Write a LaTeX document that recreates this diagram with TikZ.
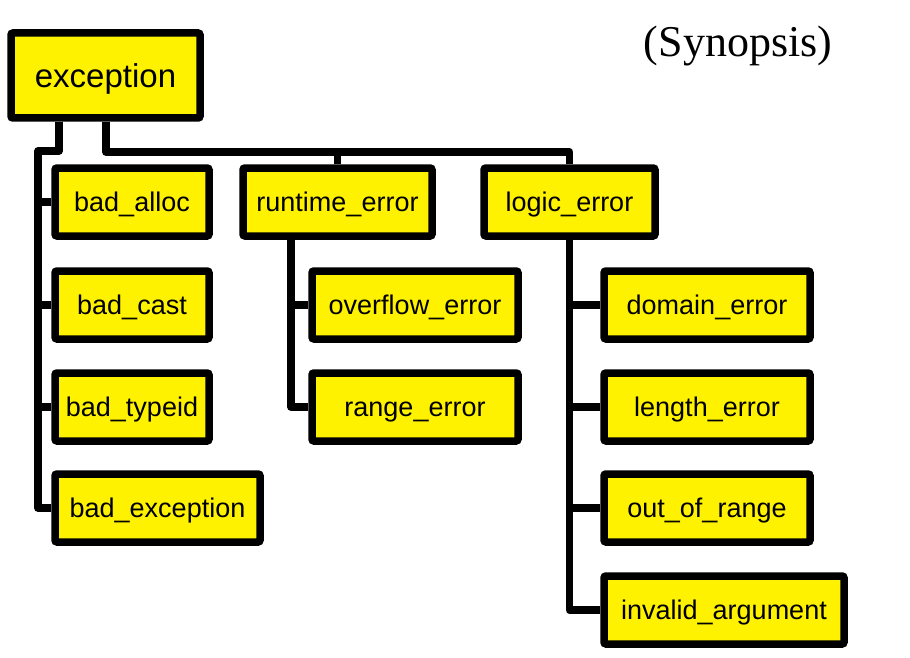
\documentclass[tikz,border=0pt]{standalone}
\usepackage{fontspec}
\setmainfont{Liberation Sans}
\newfontfamily\serifface{Liberation Serif}
\begin{document}
\begin{tikzpicture}[x=1pt,y=-1pt]
\tikzset{
  cls/.style={draw=black, line width=7.5pt, fill=yellow, rounded corners=2pt,
    minimum height=68pt, inner sep=0pt, font=\fontsize{27}{30}\selectfont,
    text height=19.4pt, text depth=0pt},
  link/.style={line width=7.5pt, line join=round}
}
\useasboundingbox (0,0) rectangle (910,658);
% nodes
\node[cls, minimum width=189pt, minimum height=85pt, font=\fontsize{33}{36}\selectfont, text height=23.7pt] (exc) at (105.5,75.5) {exception};
\node[cls, minimum width=154pt] (balloc) at (132,202) {bad\_alloc};
\node[cls, minimum width=154pt] (bcast) at (132,305) {bad\_cast};
\node[cls, minimum width=154pt] (btypeid) at (132,407) {bad\_typeid};
\node[cls, minimum width=205pt] (bexc) at (157.5,508) {bad\_exception};
\node[cls, minimum width=189pt] (runtime) at (337.5,202) {runtime\_error};
\node[cls, minimum width=171pt] (logic) at (569.5,202) {logic\_error};
\node[cls, minimum width=206pt] (overflow) at (415,305) {overflow\_error};
\node[cls, minimum width=206pt] (range) at (415,407) {range\_error};
\node[cls, minimum width=206pt] (domain) at (707,305) {domain\_error};
\node[cls, minimum width=206pt] (length) at (707,407) {length\_error};
\node[cls, minimum width=206pt] (outofrange) at (707,508) {out\_of\_range};
\node[cls, minimum width=240pt] (invalid) at (724,610) {invalid\_argument};
\node[font=\serifface\fontsize{44}{48}\selectfont, anchor=base, inner sep=0pt] (syn) at (738,57) {(Synopsis)};
% connectors
\coordinate (la) at (59,151);
\coordinate (lb) at (38,151);
\draw[link] (exc.south -| la) -- (la) -- (lb) -- (lb |- bexc.west) -- (bexc.west);
\foreach \n in {balloc,bcast,btypeid} \draw[link] (lb |- \n.west) -- (\n.west);
\coordinate (ra) at (106,152);
\draw[link] (exc.south -| ra) -- (ra) -- (ra -| logic.north) -- (logic.north);
\draw[link] (ra -| runtime.north) -- (runtime.north);
\coordinate (rtx) at (291,240);
\draw[link] (rtx |- runtime.south) -- (rtx |- range.west) -- (range.west);
\draw[link] (rtx |- overflow.west) -- (overflow.west);
\draw[link] (logic.south) -- (logic.south |- invalid.west) -- (invalid.west);
\foreach \n in {domain,length,outofrange} \draw[link] (logic.south |- \n.west) -- (\n.west);
\end{tikzpicture}
\end{document}
